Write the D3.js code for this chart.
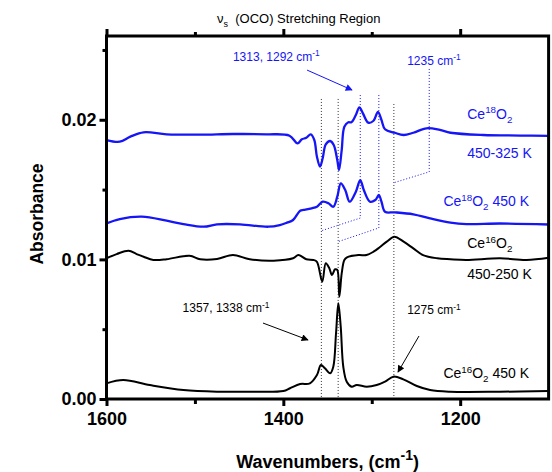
<!DOCTYPE html>
<html><head><meta charset="utf-8">
<script src="https://cdn.jsdelivr.net/npm/d3@7/dist/d3.min.js"></script>
<style>body{margin:0;background:#fff}svg{display:block}text{font-family:Arial,"Liberation Sans",sans-serif}</style>
</head><body><svg id="c" width="552" height="472"></svg>
<script>
// ---- data ----
const ce18Diff_wn = [1600,1585,1573,1558,1532,1494,1457,1419,1393,1384,1379,1374,1369,1365,1362,1358.5,1355.5,1352,1347,1343,1339,1337,1334,1331,1326.5,1323,1318,1314,1310,1304,1298,1293,1289,1285,1274,1264,1253,1238,1223,1211,1174,1132,1100];
const ce18Diff_abs = [0.01855,0.01843,0.01879,0.0191,0.01896,0.01893,0.01898,0.01896,0.01886,0.01831,0.0186,0.01871,0.01896,0.01855,0.01735,0.01664,0.01724,0.01824,0.01848,0.01819,0.01712,0.0164,0.01783,0.0195,0.01982,0.01982,0.02034,0.02089,0.02046,0.01979,0.01993,0.02056,0.01998,0.01932,0.01907,0.01891,0.01907,0.01939,0.01927,0.01907,0.01891,0.01887,0.01884];

const ce18_wn = [1600,1585,1560,1532,1513,1490,1475,1449,1417,1404,1396,1389,1381,1377,1368,1362,1355.5,1349,1343.5,1339,1335,1330,1325,1318,1313,1309,1302,1296,1292,1289,1285,1274,1253,1234,1211,1193,1155,1100];
const ce18_abs = [0.01258,0.01289,0.01306,0.01277,0.01253,0.01234,0.01251,0.01251,0.01234,0.01246,0.01263,0.01282,0.01349,0.01354,0.01366,0.01377,0.01413,0.01402,0.01377,0.01449,0.01545,0.01497,0.01413,0.01485,0.01568,0.01497,0.01413,0.01425,0.01461,0.01413,0.01341,0.01337,0.01323,0.01294,0.01264,0.01253,0.01257,0.0125];

const ce16Diff_wn = [1600,1588.5,1575,1566,1558,1547,1532,1506,1494,1475,1457,1438,1411,1389,1383,1374,1366,1362,1356,1352,1348,1345,1341.5,1339,1336.7,1334,1331,1328,1315,1306,1298,1291,1283,1274.5,1264,1253,1242,1226,1211,1193,1155,1125,1100];
const ce16Diff_abs = [0.01008,0.01038,0.01062,0.01038,0.01019,0.00996,0.01001,0.01026,0.01001,0.01003,0.01031,0.01001,0.00991,0.01008,0.01031,0.01001,0.00996,0.00983,0.0084,0.00972,0.00936,0.00888,0.00929,0.00924,0.00733,0.009,0.00996,0.01015,0.01031,0.01031,0.01055,0.01087,0.01127,0.01162,0.01127,0.01079,0.01031,0.01008,0.01001,0.00996,0.01008,0.00996,0.01012];

const ce16_wn = [1600,1581,1551,1513,1475,1438,1400,1392.5,1381,1370,1362,1357.5,1353,1347,1343.5,1340.4,1337.8,1335.1,1332.2,1328.3,1322.7,1317,1305.7,1294.4,1285,1275.6,1264.3,1249,1234,1211.5,1155,1100];
const ce16_abs = [0.00112,0.00136,0.001,0.00064,0.00052,0.00052,0.00057,0.00077,0.00107,0.00112,0.00172,0.00244,0.0022,0.00184,0.00231,0.00471,0.00685,0.00518,0.00231,0.00124,0.00088,0.001,0.00088,0.001,0.00124,0.0016,0.00141,0.00093,0.00064,0.00052,0.00052,0.00057];

const xTicksMajor = [1600,1400,1200];
const xTicksMinor = [1500,1300];
const yTicksMajor = [0.00,0.01,0.02];
const yTicksMinor = [0.005,0.015,0.025];

// ---- layout ----
const svg = d3.select("#c");
const L=106.5, R=548.6, T=36, B=399;
const x = d3.scaleLinear().domain([1600,1100]).range([L,R]);
const y = d3.scaleLinear().domain([0,0.026]).range([B,T]);
const BLUE="#1515f5";

const line = d3.line().x(d=>x(d[0])).y(d=>y(d[1])).curve(d3.curveCatmullRom.alpha(0.5));
const defs = svg.append("defs");
defs.append("clipPath").attr("id","clip").append("rect").attr("x",L).attr("y",T).attr("width",R-L).attr("height",B-T);
function mk(id,col){
  defs.append("marker").attr("id",id).attr("viewBox","0 0 10 10").attr("refX",9).attr("refY",5)
   .attr("markerWidth",9).attr("markerHeight",7).attr("orient","auto").attr("markerUnits","userSpaceOnUse")
   .append("path").attr("d","M0,0 L10,5 L0,10 z").attr("fill",col);
}
mk("ab",BLUE); mk("ak","#000");

// dotted guide lines (data coordinates)
const guides = [
  {c:"#333",pts:[[1357,0.02149],[1357,0]]},
  {c:"#333",pts:[[1338,0.02149],[1338,0]]},
  {c:"#333",pts:[[1275,0.02113],[1275,0]]},
  {c:BLUE,pts:[[1313,0.02177],[1313,0.01296],[1357,0.01205]]},
  {c:BLUE,pts:[[1292,0.02177],[1292,0.01225],[1338,0.01127]]},
  {c:BLUE,pts:[[1235,0.02364],[1235,0.01627],[1275,0.01549]]}
];
guides.forEach(g=>{
  svg.append("path").attr("d",d3.line().x(d=>x(d[0])).y(d=>y(d[1]))(g.pts))
    .attr("fill","none").attr("stroke",g.c).attr("stroke-width",1).attr("stroke-dasharray","1,2");
});

const series = [
  {wn:ce18Diff_wn,a:ce18Diff_abs,c:BLUE,w:2.3},
  {wn:ce18_wn,a:ce18_abs,c:BLUE,w:2.3},
  {wn:ce16Diff_wn,a:ce16Diff_abs,c:"#000",w:2},
  {wn:ce16_wn,a:ce16_abs,c:"#000",w:2}
];
const gl = svg.append("g").attr("clip-path","url(#clip)");
series.forEach(s=>{
  gl.append("path").attr("d",line(s.wn.map((w,i)=>[w,s.a[i]])))
    .attr("fill","none").attr("stroke",s.c).attr("stroke-width",s.w).attr("stroke-linejoin","round");
});

// arrows
const arrows = [
  {c:BLUE,m:"ab",p:[[1373.2,0.02356],[1322.3,0.02213]]},
  {c:"#000",m:"ak",p:[[1423,0.00544],[1372.1,0.00423]]},
  {c:"#000",m:"ak",p:[[1246.6,0.00451],[1270.3,0.00193]]}
];
arrows.forEach(a=>{
  svg.append("line").attr("x1",x(a.p[0][0])).attr("y1",y(a.p[0][1])).attr("x2",x(a.p[1][0])).attr("y2",y(a.p[1][1]))
   .attr("stroke",a.c).attr("stroke-width",1).attr("marker-end",`url(#${a.m})`);
});

// axes frame
const ax = svg.append("g");
ax.append("rect").attr("x",L).attr("y",T).attr("width",R-L).attr("height",B-T)
  .attr("fill","none").attr("stroke","#000").attr("stroke-width",3);
const gb = svg.append("g").attr("transform",`translate(0,${B})`)
  .call(d3.axisBottom(x).tickValues(xTicksMajor).tickFormat(d3.format("d")).tickSize(7).tickPadding(6));
const gbm = svg.append("g").attr("transform",`translate(0,${B})`)
  .call(d3.axisBottom(x).tickValues(xTicksMinor).tickFormat("").tickSize(5));
const gt = svg.append("g").attr("transform",`translate(0,${T})`)
  .call(d3.axisTop(x).tickValues(xTicksMajor).tickFormat("").tickSize(7));
const gtm = svg.append("g").attr("transform",`translate(0,${T})`)
  .call(d3.axisTop(x).tickValues(xTicksMinor).tickFormat("").tickSize(4));
const gy = svg.append("g").attr("transform",`translate(${L},0)`)
  .call(d3.axisLeft(y).tickValues(yTicksMajor).tickFormat(d3.format(".2f")).tickSize(7).tickPadding(3));
const gym = svg.append("g").attr("transform",`translate(${L},0)`)
  .call(d3.axisLeft(y).tickValues(yTicksMinor).tickFormat("").tickSize(4));
[gb,gbm,gt,gtm,gy,gym].forEach(g=>{
  g.select(".domain").remove();
  g.selectAll(".tick line").attr("stroke","#000").attr("stroke-width",3);
  g.selectAll(".tick text").attr("fill","#000").attr("font-size",18).attr("font-weight","bold")
   .attr("font-family","Arial, 'Liberation Sans', sans-serif");
});

// helper for rich labels: parts [text, mode] mode: n, sup, sub
function rich(xp,yp,parts,size,col,anchor){
  const t = svg.append("text").attr("x",xp).attr("y",yp).attr("fill",col).attr("font-size",size)
    .attr("text-anchor",anchor||"start");
  let cur=0;
  parts.forEach(([s,m])=>{
    let target = m==="sup"? -size*0.38 : m==="sub"? size*0.28 : 0;
    t.append("tspan").text(s).attr("dy",target-cur).attr("font-size", m==="n"?size:size*0.7);
    cur=target;
  });
  return t;
}
// series labels (positioned in data coords)
const labels = [
  {wn:1192,a:0.02008,c:BLUE,parts:[["Ce","n"],["18","sup"],["O","n"],["2","sub"]]},
  {wn:1192,a:0.01726,c:BLUE,parts:[["450-325 K","n"]]},
  {wn:1219,a:0.01382,c:BLUE,parts:[["Ce","n"],["18","sup"],["O","n"],["2","sub"],[" 450 K","n"]]},
  {wn:1192,a:0.01081,c:"#000",parts:[["Ce","n"],["16","sup"],["O","n"],["2","sub"]]},
  {wn:1192,a:0.00859,c:"#000",parts:[["450-250 K","n"]]},
  {wn:1219,a:0.00150,c:"#000",parts:[["Ce","n"],["16","sup"],["O","n"],["2","sub"],[" 450 K","n"]]}
];
labels.forEach(l=>rich(x(l.wn),y(l.a),l.parts,14,l.c));

const annots = [
  {wn:1457,a:0.02421,c:BLUE,parts:[["1313, 1292 cm","n"],["-1","sup"]]},
  {wn:1260,a:0.02393,c:BLUE,parts:[["1235 cm","n"],["-1","sup"]]},
  {wn:1514,a:0.00622,c:"#000",parts:[["1357, 1338 cm","n"],["-1","sup"]]},
  {wn:1260,a:0.00608,c:"#000",parts:[["1275 cm","n"],["-1","sup"]]}
];
annots.forEach(l=>rich(x(l.wn),y(l.a),l.parts,12,l.c));

// title
const tt = svg.append("text").attr("x",217).attr("y",23).attr("font-size",13).attr("fill","#000");
tt.append("tspan").text("ν");
tt.append("tspan").text("s").attr("font-size",9).attr("dy",4);
tt.append("tspan").text("\u00a0\u00a0(OCO) Stretching Region").attr("dy",-4);

// axis titles
const xt = svg.append("text").attr("x",(L+R)/2).attr("y",468).attr("text-anchor","middle")
  .attr("font-size",18).attr("font-weight","bold").attr("fill","#000");
xt.append("tspan").text("Wavenumbers, (cm");
xt.append("tspan").text("-1").attr("dy",-8).attr("font-size",14);
xt.append("tspan").text(")").attr("dy",8);
svg.append("text").attr("transform","translate(43,214) rotate(-90)").attr("text-anchor","middle")
  .attr("font-size",17.5).attr("font-weight","bold").attr("fill","#000").text("Absorbance");
</script></body></html>
